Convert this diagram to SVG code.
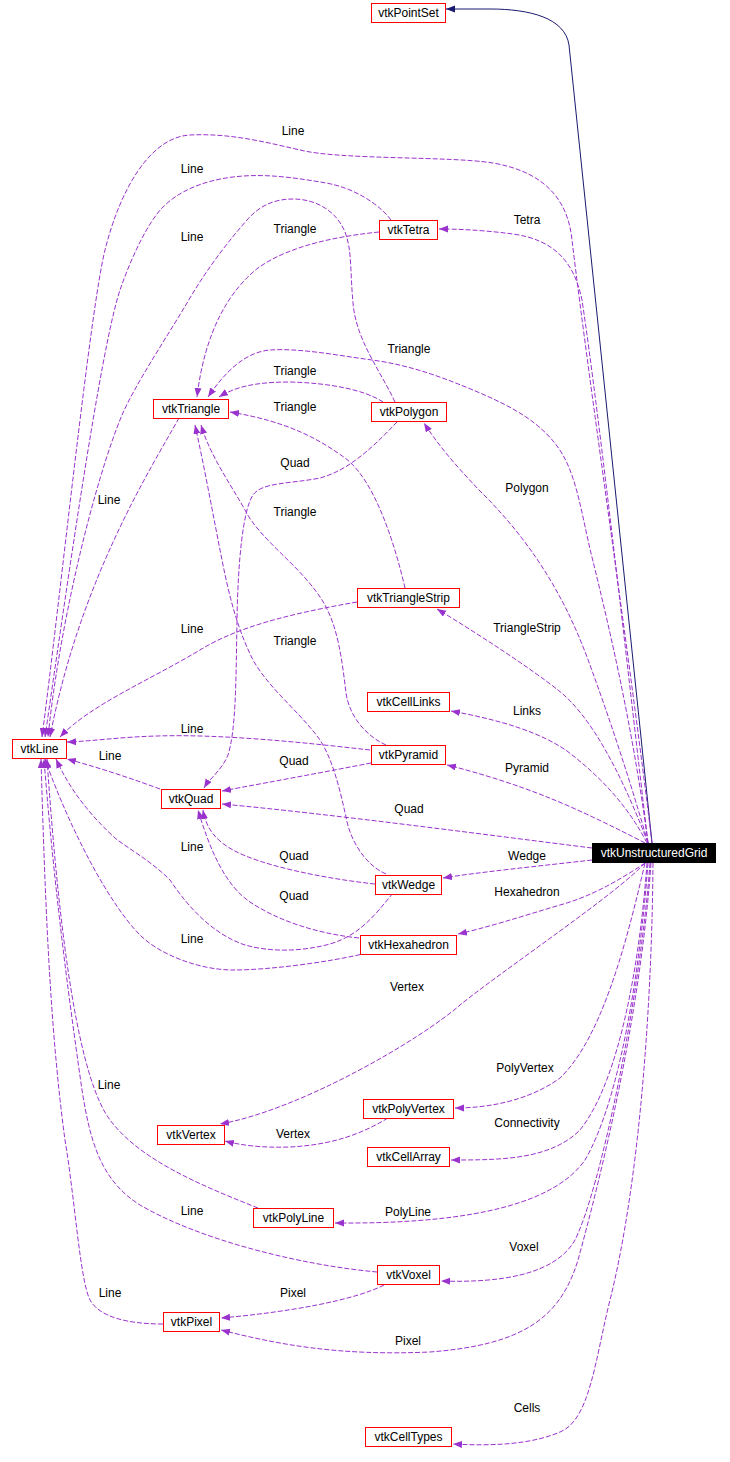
<svg xmlns="http://www.w3.org/2000/svg" width="730" height="1462" viewBox="0 0 730 1462">
<style>
.n rect{fill:#ffffff;stroke:#ff0000;stroke-width:1}
text{font-family:"Liberation Sans",Arial,sans-serif;font-size:12px;text-anchor:middle;fill:#000}
.e path{fill:none;stroke:#9a32cd;stroke-width:1;stroke-dasharray:5,2;marker-end:url(#a)}
.e path.inh{stroke:#191970;stroke-dasharray:none;marker-end:url(#b)}
</style>
<defs>
<marker id="a" markerWidth="10" markerHeight="8" refX="9" refY="3.5" orient="auto" markerUnits="userSpaceOnUse"><path d="M0,0 L9,3.5 L0,7 z" fill="#9a32cd"/></marker>
<marker id="b" markerWidth="10" markerHeight="8" refX="9" refY="3.5" orient="auto" markerUnits="userSpaceOnUse"><path d="M0,0 L9,3.5 L0,7 z" fill="#191970"/></marker>
</defs>
<rect width="730" height="1462" fill="#ffffff"/>
<g id="edges" class="e">
<path class="inh" d="M652,843 L569,45 C565,18 530,9 490,9 L446,9"/>
<path d="M648,843 C630,690 600,420 582,300 C574,262 555,240 513,234 C490,231 465,229 439,229"/>
<path d="M652,843 C630,660 590,390 572,240 C568,200 545,172 493,163 C450,156 340,160 300,150 C265,142 230,133 190,135 C150,137 120,190 105,250 C90,310 60,600 42,737"/>
<path d="M648,843 C632,720 605,610 590,549 C580,505 575,470 557,446 C540,423 515,408 480,393 C445,378 410,365 372,360 C335,355 300,348 270,350 C245,352 225,372 208,397"/>
<path d="M648,843 C630,780 610,720 590,665 C570,610 540,550 480,491 C460,470 440,448 424,423"/>
<path d="M648,843 C620,770 590,715 558,690 C530,668 480,635 437,609"/>
<path d="M647,843 C630,810 605,780 567,751 C540,732 500,720 451,711"/>
<path d="M645,843 C620,830 580,810 547,797 C520,786 480,773 447,765"/>
<path d="M592,848 C480,834 330,814 222,804"/>
<path d="M592,860 C540,866 480,872 443,878"/>
<path d="M645,863 C620,880 590,897 560,905 C520,917 485,928 458,934"/>
<path d="M645,863 C615,895 510,965 460,1005 C420,1040 300,1110 220,1124"/>
<path d="M645,863 C625,950 600,1040 560,1078 C530,1100 490,1108 455,1108"/>
<path d="M647,863 C640,960 620,1080 580,1130 C550,1160 500,1160 451,1160"/>
<path d="M648,863 C640,970 620,1100 585,1160 C550,1210 450,1224 335,1223"/>
<path d="M650,863 C640,1000 600,1190 575,1240 C555,1275 500,1283 441,1281"/>
<path d="M651,863 C640,1020 600,1180 578,1260 C560,1320 520,1345 430,1352 C340,1356 280,1345 221,1330"/>
<path d="M653,863 C652,1000 640,1180 610,1300 C595,1360 590,1420 560,1432 C530,1445 490,1446 453,1444"/>
<path d="M391,220 C380,205 355,188 326,183 C297,178 265,173 233,177 C201,181 178,192 163,207 C148,222 131,258 120,290 C100,350 65,600 45,737"/>
<path d="M379,232 C340,236 290,245 258,268 C230,290 205,330 197,397"/>
<path d="M395,402 C380,370 356,340 353,303 C350,270 352,250 345,232 C336,210 315,199 293,199 C275,199 260,205 247,220 C225,245 205,272 187,303 C165,340 135,385 122,415 C95,480 60,620 48,737"/>
<path d="M383,402 C365,390 330,383 290,382 C255,382 235,387 219,397"/>
<path d="M405,588 C395,545 375,480 345,458 C320,440 290,422 230,412"/>
<path d="M397,422 C375,445 350,470 320,478 C290,484 262,482 253,495 C243,510 238,560 237,620 C236,680 236,730 228,755 C222,770 210,778 204,788"/>
<path d="M179,418 C150,470 80,580 50,737"/>
<path d="M357,602 C300,612 240,625 200,650 C150,680 90,705 60,737"/>
<path d="M370,750 C300,742 220,734 157,736 C120,737 95,741 67,742"/>
<path d="M160,789 C130,778 100,768 67,759"/>
<path d="M371,763 C330,771 270,782 222,791"/>
<path d="M386,745 C370,738 350,720 346,693 C342,660 338,625 322,600 C300,565 260,540 245,510 C228,480 210,455 201,425"/>
<path d="M386,874 C365,865 350,840 346,817 C340,790 333,760 320,740 C300,712 270,690 253,660 C238,630 230,600 222,560 C214,520 205,470 195,425"/>
<path d="M375,884 C320,878 260,865 233,850 C215,840 206,828 203,810"/>
<path d="M359,938 C320,934 280,922 250,902 C225,885 210,850 198,810"/>
<path d="M367,953 C330,962 270,970 233,970 C200,970 160,955 140,935 C110,905 70,830 45,759"/>
<path d="M393,893 C375,915 360,935 330,944 C300,952 270,952 245,945 C215,935 190,910 170,880 C150,860 130,850 115,838 C90,815 70,790 56,759"/>
<path d="M258,1208 C200,1185 140,1160 110,1120 C80,1080 60,950 47,759"/>
<path d="M377,1272 C300,1265 200,1240 140,1205 C100,1180 90,1140 82,1090 C72,1020 55,900 44,759"/>
<path d="M163,1324 C130,1324 100,1318 90,1300 C80,1280 75,1200 65,1140 C50,1030 45,900 41,759"/>
<path d="M388,1118 C360,1135 330,1145 290,1147 C260,1148 240,1145 225,1141"/>
<path d="M384,1285 C355,1300 290,1312 221,1318"/>
</g>
<g id="labels">
<text x="293" y="135">Line</text>
<text x="192" y="173">Line</text>
<text x="192" y="241">Line</text>
<text x="295" y="233">Triangle</text>
<text x="527" y="224">Tetra</text>
<text x="409" y="353">Triangle</text>
<text x="295" y="375">Triangle</text>
<text x="295" y="411">Triangle</text>
<text x="295" y="467">Quad</text>
<text x="527" y="492">Polygon</text>
<text x="109" y="504">Line</text>
<text x="295" y="516">Triangle</text>
<text x="527" y="632">TriangleStrip</text>
<text x="192" y="633">Line</text>
<text x="295" y="645">Triangle</text>
<text x="527" y="715">Links</text>
<text x="192" y="733">Line</text>
<text x="110" y="760">Line</text>
<text x="294" y="765">Quad</text>
<text x="527" y="772">Pyramid</text>
<text x="409" y="813">Quad</text>
<text x="192" y="851">Line</text>
<text x="294" y="860">Quad</text>
<text x="527" y="860">Wedge</text>
<text x="527" y="896">Hexahedron</text>
<text x="294" y="900">Quad</text>
<text x="192" y="943">Line</text>
<text x="407" y="991">Vertex</text>
<text x="525" y="1072">PolyVertex</text>
<text x="109" y="1089">Line</text>
<text x="527" y="1127">Connectivity</text>
<text x="293" y="1138">Vertex</text>
<text x="192" y="1215">Line</text>
<text x="408" y="1216">PolyLine</text>
<text x="524" y="1251">Voxel</text>
<text x="110" y="1297">Line</text>
<text x="293" y="1297">Pixel</text>
<text x="408" y="1345">Pixel</text>
<text x="527" y="1412">Cells</text>
</g>
<g id="vtkPointSet" class="n"><rect x="371.5" y="3.5" width="74" height="19"/><text x="408.5" y="17">vtkPointSet</text></g>
<g id="vtkTetra" class="n"><rect x="379.5" y="220.5" width="58" height="19"/><text x="408.5" y="234">vtkTetra</text></g>
<g id="vtkTriangle" class="n"><rect x="153.5" y="399.5" width="75" height="19"/><text x="191" y="413">vtkTriangle</text></g>
<g id="vtkPolygon" class="n"><rect x="371.5" y="402.5" width="75" height="19"/><text x="409" y="416">vtkPolygon</text></g>
<g id="vtkTriangleStrip" class="n"><rect x="357.5" y="588.5" width="102" height="19"/><text x="408.5" y="602">vtkTriangleStrip</text></g>
<g id="vtkCellLinks" class="n"><rect x="367.5" y="692.5" width="82" height="19"/><text x="408.5" y="706">vtkCellLinks</text></g>
<g id="vtkLine" class="n"><rect x="12.5" y="739.5" width="54" height="19"/><text x="39.5" y="753">vtkLine</text></g>
<g id="vtkPyramid" class="n"><rect x="371.5" y="745.5" width="74" height="19"/><text x="408.5" y="759">vtkPyramid</text></g>
<g id="vtkQuad" class="n"><rect x="161.5" y="789.5" width="59" height="19"/><text x="191" y="803">vtkQuad</text></g>
<g id="vtkUnstructuredGrid"><rect x="592" y="843" width="124" height="20" fill="#000000"/><text x="654" y="857" fill="#ffffff" style="fill:#ffffff">vtkUnstructuredGrid</text></g>
<g id="vtkWedge" class="n"><rect x="375.5" y="875.5" width="66" height="19"/><text x="408.5" y="889">vtkWedge</text></g>
<g id="vtkHexahedron" class="n"><rect x="360.5" y="935.5" width="96" height="19"/><text x="408.5" y="949">vtkHexahedron</text></g>
<g id="vtkPolyVertex" class="n"><rect x="363.5" y="1099.5" width="90" height="19"/><text x="408.5" y="1113">vtkPolyVertex</text></g>
<g id="vtkVertex" class="n"><rect x="157.5" y="1125.5" width="67" height="19"/><text x="191" y="1139">vtkVertex</text></g>
<g id="vtkCellArray" class="n"><rect x="367.5" y="1147.5" width="82" height="19"/><text x="408.5" y="1161">vtkCellArray</text></g>
<g id="vtkPolyLine" class="n"><rect x="253.5" y="1208.5" width="80" height="19"/><text x="293.5" y="1222">vtkPolyLine</text></g>
<g id="vtkVoxel" class="n"><rect x="377.5" y="1265.5" width="62" height="19"/><text x="408.5" y="1279">vtkVoxel</text></g>
<g id="vtkPixel" class="n"><rect x="163.5" y="1312.5" width="56" height="19"/><text x="191.5" y="1326">vtkPixel</text></g>
<g id="vtkCellTypes" class="n"><rect x="365.5" y="1427.5" width="86" height="19"/><text x="408.5" y="1441">vtkCellTypes</text></g>
</svg>
